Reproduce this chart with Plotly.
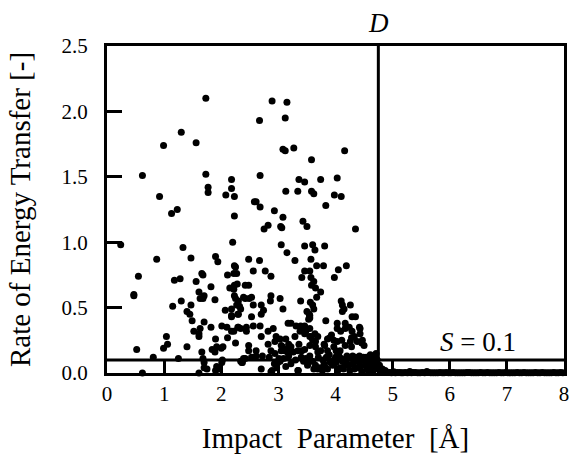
import plotly.graph_objects as go

# ---- data ----
pts_upper = [
    (0.24,0.98),(0.62,1.51),(0.92,1.35),(0.99,1.74),(1.13,1.22),(1.23,1.25),(1.30,1.84),(1.33,0.96),
    (1.56,1.76),(1.73,2.10),(1.73,1.52),(1.77,1.42),(1.77,1.38),(2.08,1.36),(2.18,1.48),(2.18,1.41),
    (2.23,1.35),(2.23,1.20),(2.20,1.00),(2.89,2.08),(3.15,2.07),(2.67,1.93),(3.12,1.95),(3.08,1.71),
    (3.12,1.70),(3.27,1.72),(4.16,1.70),(3.58,1.63),(2.68,1.51),(3.36,1.48),(3.46,1.46),(3.74,1.48),
    (4.03,1.49),(3.13,1.39),(3.34,1.39),(3.58,1.39),(3.62,1.37),(3.98,1.36),(4.10,1.35),(2.58,1.31),
    (2.61,1.31),(2.68,1.27),(3.83,1.28),(2.93,1.24),(3.08,1.19),(3.43,1.16),(3.50,1.12),(2.82,1.13),
    (2.75,1.10),(3.04,1.12),(3.06,1.11),(4.35,1.10),(3.05,0.98),(3.46,0.97),(3.60,0.98),(3.81,0.97),
    (3.15,0.92),(3.64,0.94),
]
pts_left_mid = [
    (0.87,0.87),(1.47,0.88),(0.55,0.74),(0.47,0.59),(0.47,0.60),(1.18,0.71),(1.28,0.72),(1.56,0.70),
    (1.66,0.76),(1.68,0.75),(1.90,0.89),(1.94,0.85),(2.11,0.75),(2.22,0.76),(2.25,0.81),(2.28,0.68),
    (2.15,0.65),(1.82,0.66),(1.61,0.62),(1.70,0.59),(1.68,0.57),(1.63,0.57),(1.89,0.56),(1.30,0.55),
    (1.15,0.51),(1.47,0.52),(1.40,0.47),(1.45,0.45),(2.07,0.48),(2.23,0.59),(2.30,0.55),(2.27,0.52),
    (2.34,0.49),(2.42,0.57),(2.18,0.44),(2.30,0.45),(1.49,0.40),(1.70,0.39),(1.82,0.35),(1.63,0.34),
    (2.01,0.36),(2.10,0.35),(2.18,0.32),(2.29,0.35),(2.34,0.34),(2.44,0.32),(1.52,0.32),(1.61,0.30),
    (1.61,0.28),(1.04,0.28),(1.06,0.22),(0.99,0.19),(1.90,0.26),(1.92,0.20),(1.84,0.18),(2.00,0.19),
    (1.89,0.16),(2.03,0.20),(1.40,0.20),(1.66,0.16),(2.11,0.27),(0.52,0.18),(0.81,0.12),(1.25,0.11),
    (0.62,0.00),(1.70,0.08),(1.75,0.03),(1.90,0.02),(1.92,0.05),(2.01,0.08),(1.61,0.00),(2.37,0.08),
    (2.42,0.11),(1.68,0.11),(1.70,0.04),(1.96,0.03),(2.02,0.10),
]
pts_right_mid = [
    (2.48,0.87),(2.67,0.86),(3.29,0.86),(3.57,0.87),(3.67,0.82),(3.79,0.82),(4.19,0.82),(4.05,0.79),
    (3.98,0.73),(2.23,0.82),(2.27,0.76),(2.56,0.78),(2.77,0.78),(2.87,0.74),(3.46,0.78),(3.55,0.78),
    (3.41,0.73),(3.57,0.73),(3.62,0.70),(3.58,0.67),(3.65,0.65),(3.74,0.62),(3.67,0.58),(2.23,0.67),
    (2.22,0.64),(2.42,0.67),(2.48,0.67),(2.25,0.57),(2.39,0.58),(2.49,0.57),(2.53,0.58),(2.87,0.59),
    (2.86,0.55),(3.03,0.57),(3.08,0.49),(2.70,0.52),(2.74,0.48),(2.56,0.52),(2.18,0.49),(2.32,0.51),
    (2.29,0.45),(2.18,0.43),(3.39,0.55),(3.60,0.52),(3.62,0.49),(3.55,0.44),(3.53,0.41),(3.46,0.36),
    (3.83,0.40),(4.10,0.55),(4.12,0.52),(4.26,0.52),(4.12,0.47),(4.29,0.43),(4.35,0.43),(2.53,0.43),
    (2.70,0.45),(2.44,0.35),(2.30,0.35),(2.22,0.32),(2.56,0.36),(2.68,0.36),(2.70,0.28),(2.82,0.32),
    (2.91,0.34),(2.96,0.28),(2.94,0.24),(3.03,0.26),(3.05,0.21),(3.13,0.26),(3.17,0.38),(3.22,0.38),
    (3.31,0.36),(3.38,0.32),(3.29,0.28),(3.39,0.36),(3.46,0.30),(3.55,0.34),(3.57,0.28),(3.64,0.30),
    (3.69,0.28),(3.65,0.24),(4.03,0.38),(4.03,0.34),(4.09,0.32),(4.17,0.38),(4.17,0.34),(4.24,0.35),
    (4.29,0.32),(4.33,0.28),(4.43,0.34),(4.43,0.30),(4.47,0.25),(4.50,0.21),(4.38,0.24),(4.26,0.24),
    (4.17,0.21),(4.03,0.24),(3.97,0.25),(3.86,0.26),(3.81,0.21),(3.86,0.17),(2.25,0.23),(2.48,0.21),
    (2.48,0.17),(2.61,0.17),(2.61,0.13),(2.82,0.22),(2.87,0.17),(2.94,0.15),(3.05,0.17),(3.13,0.18),
    (3.22,0.20),(3.26,0.16),(3.34,0.17),(3.46,0.18),(3.55,0.21),(3.65,0.20),(3.69,0.16),(3.74,0.17),
    (3.36,0.22),(3.41,0.17),(3.90,0.27),(3.93,0.29),(3.80,0.22),(4.11,0.25),(3.97,0.20),(4.01,0.17),
    (4.08,0.17),(4.28,0.20),(4.28,0.27),(4.46,0.23),(4.42,0.35),(4.15,0.49),(3.56,0.54),(3.50,0.47),
    (3.54,0.45),(3.55,0.42),(3.48,0.32),(3.55,0.28),(3.60,0.25),(3.11,0.17),(3.16,0.16),(3.18,0.22),
    (3.07,0.20),
]
pts_low = [
    (2.36,0.08),(2.70,0.03),(2.87,0.01),(2.99,0.08),(3.13,0.05),(3.34,0.02),(3.52,0.07),(3.69,0.03),
    (3.81,0.05),(3.91,0.08),(4.03,0.13),(4.21,0.11),(4.42,0.13),(4.61,0.13),(4.69,0.13),
    (2.34,0.09),(2.39,0.11),(2.53,0.12),(2.59,0.12),(2.72,0.13),(2.84,0.12),(2.89,0.02),(2.93,0.07),
    (2.97,0.04),(3.01,0.11),(3.03,0.09),(3.09,0.11),(3.18,0.13),(3.22,0.07),(3.35,0.02),(3.40,0.12),
    (3.44,0.09),(3.51,0.06),(3.55,0.13),(3.60,0.09),(3.65,0.06),(3.70,0.12),(3.73,0.04),(3.77,0.02),
    (3.80,0.07),(3.84,0.12),(3.89,0.14),(3.92,0.09),(3.95,0.06),(4.00,0.12),(4.01,0.08),(4.06,0.13),
    (4.08,0.04),(4.12,0.09),(4.16,0.07),(4.20,0.13),(4.23,0.06),(4.27,0.11),(4.31,0.07),(4.35,0.12),
    (4.39,0.04),(4.42,0.08),(4.46,0.01),(4.49,0.12),(4.52,0.06),(4.55,0.03),(4.58,0.08),(4.61,0.14),
    (4.63,0.04),(4.66,0.02),(4.71,0.15),(4.71,0.06),(4.75,0.03),(4.79,0.01),(4.84,0.005),(4.90,0.005),
    (3.30,0.10),(3.48,0.11),(3.62,0.03),(3.78,0.10),(3.86,0.03),(3.98,0.10),(4.04,0.02),(4.10,0.11),
    (4.14,0.03),(4.18,0.10),(4.25,0.02),(4.30,0.13),(4.33,0.03),(4.37,0.09),(4.44,0.05),(4.48,0.10),
    (4.54,0.12),(4.57,0.02),(4.60,0.06),(4.65,0.09),(4.68,0.04),(4.73,0.10),(4.77,0.06),(4.82,0.03),
    (4.87,0.02),
]
pts_tail = [
    (4.95,0.004),(5.02,0.01),(5.08,0.003),(5.15,0.002),(5.22,0.004),(5.30,0.012),(5.36,0.003),
    (5.44,0.002),(5.52,0.003),(5.60,0.011),(5.67,0.002),(5.75,0.002),(5.83,0.003),(5.90,0.002),
    (5.98,0.002),(6.06,0.003),(6.14,0.002),(6.22,0.002),(6.30,0.003),(6.38,0.002),(6.46,0.002),
    (6.54,0.003),(6.62,0.002),(6.70,0.002),(6.78,0.002),(6.86,0.003),(6.94,0.002),(7.02,0.002),
    (7.10,0.002),(7.18,0.003),(7.26,0.002),(7.34,0.002),(7.42,0.002),(7.50,0.003),(7.58,0.002),
    (7.66,0.002),(7.74,0.002),(7.82,0.003),(7.90,0.002),(7.98,0.002),
]
pts_tail_b = [
    (4.92,0.003),(4.98,0.002),(5.05,0.002),(5.12,0.003),(5.18,0.002),(5.26,0.002),(5.33,0.002),
    (5.40,0.003),(5.48,0.002),(5.56,0.002),(5.63,0.003),(5.71,0.002),(5.79,0.002),(5.87,0.002),
    (5.94,0.003),(6.02,0.002),(6.10,0.002),(6.18,0.002),(6.26,0.002),(6.34,0.003),(6.42,0.002),
    (6.50,0.002),(6.58,0.002),(6.66,0.003),(6.74,0.002),(6.82,0.002),(6.90,0.002),(6.98,0.003),
    (7.06,0.002),(7.14,0.002),(7.22,0.002),(7.30,0.003),(7.38,0.002),(7.46,0.002),(7.54,0.002),
    (7.62,0.003),(7.70,0.002),(7.78,0.002),(7.86,0.002),(7.94,0.003),
]

all_pts = pts_upper + pts_left_mid + pts_right_mid + pts_low + pts_tail + pts_tail_b
impact = [p[0] for p in all_pts]
rate = [p[1] for p in all_pts]

D_X = 4.75
S_Y = 0.1
x_ticks = [0, 1, 2, 3, 4, 5, 6, 7, 8]
y_ticks = [0.0, 0.5, 1.0, 1.5, 2.0, 2.5]

FONT = "Liberation Serif, Times New Roman, serif"

fig = go.Figure()
fig.add_trace(go.Scatter(
    x=impact, y=rate, mode="markers",
    marker=dict(color="black", size=7, line=dict(width=0)),
    cliponaxis=False, showlegend=False,
))

fig.add_shape(type="line", x0=D_X, x1=D_X, y0=0, y1=2.5, xref="x", yref="y",
              line=dict(color="black", width=3))
fig.add_shape(type="line", x0=0, x1=8, y0=S_Y, y1=S_Y, xref="x", yref="y",
              line=dict(color="black", width=3))

fig.add_annotation(x=D_X, y=1, xref="x", yref="paper", yanchor="bottom", yshift=6,
                   text="<i>D</i>", showarrow=False, font=dict(family=FONT, size=27, color="black"))
fig.add_annotation(x=6.5, y=0.235, xref="x", yref="y",
                   text="<i>S</i> = 0.1", showarrow=False, font=dict(family=FONT, size=27, color="black"))

fig.update_layout(
    width=574, height=464,
    margin=dict(l=107, r=5, t=46, b=91),
    paper_bgcolor="white", plot_bgcolor="white",
    font=dict(family=FONT, color="black"),
    xaxis=dict(range=[0, 8], tickvals=x_ticks, ticks="inside", ticklen=13, tickwidth=3,
               tickcolor="black", showline=True, linewidth=3, linecolor="black", mirror=True,
               showgrid=False, zeroline=False, tickfont=dict(size=21, family=FONT),
               title=dict(text="Impact  Parameter  [Å]", font=dict(size=29, family=FONT), standoff=23)),
    yaxis=dict(range=[0, 2.5], tickvals=y_ticks, tickformat=".1f", ticks="inside", ticklen=15,
               tickwidth=3, tickcolor="black", showline=True, linewidth=3, linecolor="black",
               mirror=True, showgrid=False, zeroline=False, tickfont=dict(size=21, family=FONT),
               ticklabelstandoff=12,
               title=dict(text="Rate of Energy Transfer [-]", font=dict(size=29, family=FONT), standoff=23)),
)

fig.write_html("out.html")
